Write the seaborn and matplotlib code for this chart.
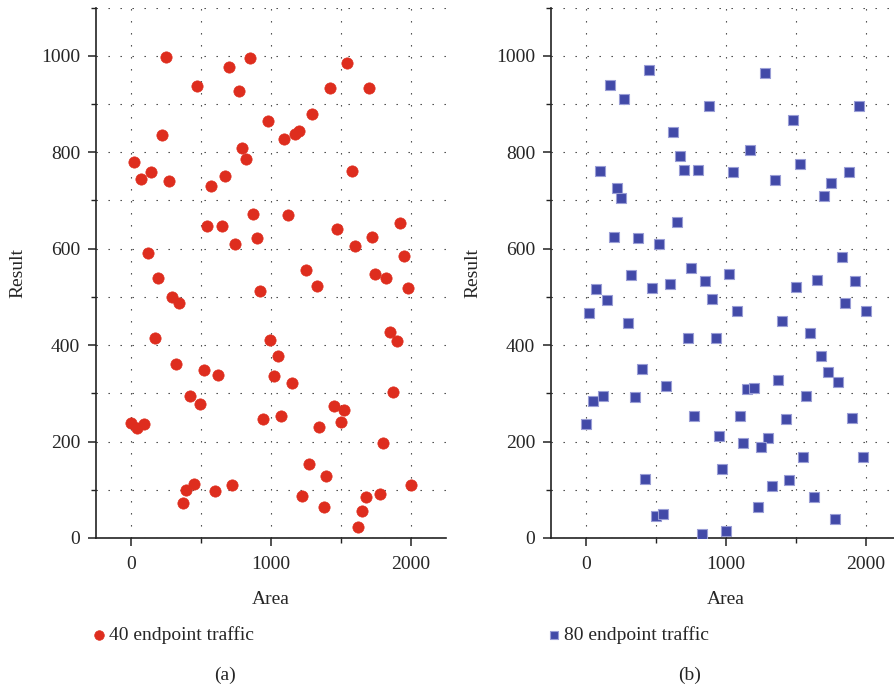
import matplotlib
matplotlib.use("Agg")
import matplotlib.pyplot as plt
from matplotlib.ticker import MultipleLocator
import seaborn as sns
import pandas as pd

sns.set_style("ticks")
plt.rcParams["font.family"] = ["Liberation Serif", "DejaVu Serif"]

# 40 endpoint traffic samples
area_40 = [249, 849, 699, 1546, 470, 773, 1423, 1699, 1296, 975, 1096, 1173, 1201,
           223, 796, 823, 23, 1575, 146, 73, 273, 673, 573, 873, 1123, 546, 649,
           1923, 899, 746, 1473, 1723, 1599, 1949, 123, 196, 1251, 1746, 1823,
           923, 1325, 1975, 296, 346, 173, 996, 1849, 1899, 1051, 323, 523, 623,
           1023, 1149, 1873, 423, 496, 1449, 1523, 946, 1070, 1499, 1346, 0, 46,
           96, 1799, 1273, 1396, 1999, 723, 449, 396, 599, 1223, 1675, 1775, 373,
           1375, 1652, 1623]
result_40 = [997, 995, 977, 984, 938, 927, 934, 934, 880, 864, 828, 838, 844,
             835, 809, 786, 780, 761, 758, 744, 741, 750, 730, 672, 670, 647, 647,
             653, 622, 610, 640, 624, 606, 585, 591, 540, 555, 547, 540,
             513, 523, 518, 499, 488, 414, 410, 427, 409, 378, 360, 349, 337,
             336, 322, 303, 295, 277, 273, 266, 246, 253, 241, 231, 239, 228,
             237, 196, 153, 129, 109, 110, 112, 100, 98, 87, 86, 91, 72,
             64, 57, 23]

# 80 endpoint traffic samples
area_80 = [450, 1276, 174, 274, 876, 1952, 1476, 624, 1174, 674, 1526, 98, 700,
           800, 1052, 1876, 1352, 1750, 224, 1700, 250, 650, 200, 374, 524, 1826,
           750, 324, 1024, 74, 474, 600, 848, 1500, 1650, 1924, 148, 900, 1850,
           24, 1076, 2002, 298, 1400, 1602, 726, 926, 1679, 400, 1726, 574, 1374,
           1800, 1152, 1200, 50, 124, 350, 1574, 0, 774, 1100, 1426, 1900, 950,
           1300, 1124, 1250, 1552, 1976, 974, 424, 1450, 1326, 1626, 1226, 500,
           550, 1776, 826, 1000]
result_80 = [970, 965, 940, 911, 896, 895, 867, 842, 805, 793, 775, 762, 763,
             763, 759, 759, 743, 736, 725, 709, 704, 656, 624, 622, 610, 583,
             560, 545, 548, 516, 519, 526, 533, 521, 534, 533, 493, 496, 488,
             467, 470, 470, 445, 450, 426, 415, 414, 378, 351, 345, 315, 327,
             323, 308, 310, 284, 295, 292, 295, 237, 253, 254, 246, 249, 211,
             207, 196, 189, 168, 167, 143, 122, 120, 108, 86, 64, 46,
             50, 39, 8, 15]

label_40 = "40 endpoint traffic"
label_80 = "80 endpoint traffic"

df40 = pd.DataFrame({"Area": area_40, "Result": result_40})
df80 = pd.DataFrame({"Area": area_80, "Result": result_80})

RED = "#DE2D1E"
BLUE = "#424AA8"
FS = 14

fig = plt.figure(figsize=(8.94, 6.89), dpi=100)
H = 689.0
W = 894.0
ax1 = fig.add_axes([96 / W, (H - 538) / H, 350 / W, 530.5 / H])
ax2 = fig.add_axes([551 / W, (H - 538) / H, 350 / W, 530.5 / H])

sns.scatterplot(data=df40, x="Area", y="Result", ax=ax1, color=RED, marker="o",
                s=66, edgecolor=RED, linewidth=0.5, label=label_40, zorder=3)
sns.scatterplot(data=df80, x="Area", y="Result", ax=ax2, color=BLUE, marker="s",
                s=50, edgecolor="#9A9ED6", linewidth=0.8, label=label_80, zorder=3)

for ax, tag, in ((ax1, "(a)"), (ax2, "(b)")):
    ax.set_xlim(-250, 2250)
    ax.set_ylim(0, 1100)
    ax.xaxis.set_major_locator(MultipleLocator(1000))
    ax.xaxis.set_minor_locator(MultipleLocator(500))
    ax.yaxis.set_major_locator(MultipleLocator(200))
    ax.yaxis.set_minor_locator(MultipleLocator(100))
    ax.grid(which="both", color="#333333", linewidth=0.8,
            linestyle=(0, (1.2, 9.6)))
    ax.set_axisbelow(True)
    for side in ("top", "right"):
        ax.spines[side].set_visible(False)
    for side in ("left", "bottom"):
        ax.spines[side].set_linewidth(1.2)
        ax.spines[side].set_color("#222222")
    ax.tick_params(which="major", length=6, width=1.1, labelsize=FS,
                   color="#222222")
    ax.tick_params(axis="x", which="major", pad=7)
    ax.tick_params(axis="y", which="major", pad=5.5)
    ax.tick_params(which="minor", length=3.5, width=1.0, color="#222222")
    ax.set_xlabel("Area", fontsize=FS, labelpad=13)
    ax.set_ylabel("Result", fontsize=FS, labelpad=10.5)
    ax.legend(loc="center left", bbox_to_anchor=(-0.02, -0.183), frameon=False,
              fontsize=FS, handletextpad=0.05, handlelength=1.0, borderpad=0,
              borderaxespad=0, markerscale=0.85)

fig.text(225 / W, 1 - 675 / H, "(a)", ha="center", va="center", fontsize=FS)
fig.text(690 / W, 1 - 675 / H, "(b)", ha="center", va="center", fontsize=FS)

fig.savefig("out.png", dpi=100)
